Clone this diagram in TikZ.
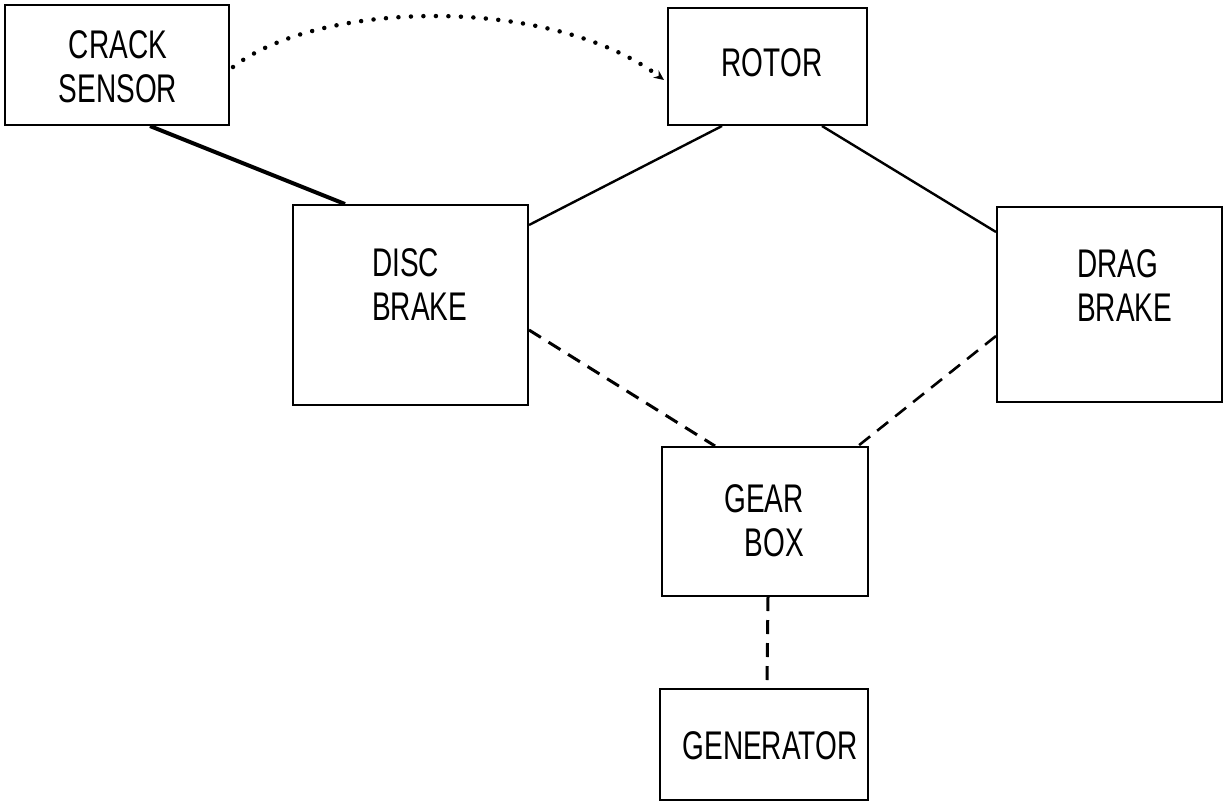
\documentclass[tikz,border=0pt]{standalone}
\usepackage{fontspec}
\setmainfont{Liberation Sans}[FakeStretch=0.7]
\usetikzlibrary{arrows.meta}
\begin{document}
\begin{tikzpicture}[x=1pt,y=-1pt,
  box/.style={draw, line width=2pt, rectangle, inner sep=0pt},
  lbl/.style={inner sep=0pt, font=\fontsize{40}{44}\selectfont},
  solidlink/.style={line width=2.4pt},
  thicklink/.style={line width=4pt},
  dashlink/.style={line width=3pt, dash pattern=on 14pt off 9pt},
  dotlink/.style={line width=4.5pt, line cap=round, dash pattern=on 0pt off 12.5pt, -{Stealth[length=10pt,width=9pt]}}]
\useasboundingbox (0,0) rectangle (1226,804);
\fill[white] (0,0) rectangle (1226,804);
% boxes
\node[box, minimum width=224pt, minimum height=120pt] (cs) at (117,65) {};
\node[box, minimum width=199pt, minimum height=117pt] (rotor) at (767.5,66.5) {};
\node[box, minimum width=235pt, minimum height=200pt] (disc) at (410.5,305) {};
\node[box, minimum width=225pt, minimum height=195pt] (drag) at (1109.5,304.5) {};
\node[box, minimum width=206pt, minimum height=149pt] (gear) at (765,521.5) {};
\node[box, minimum width=208pt, minimum height=111pt] (gen) at (764,744.5) {};
% labels
\node[lbl, align=center] (cst) at (118,67) {CRACK\\SENSOR};
\node[lbl] (rotort) at (772,63) {ROTOR};
\node[lbl, align=left, anchor=west] (disct) at (372,285) {DISC\\BRAKE};
\node[lbl, align=left, anchor=west] (dragt) at (1077,286) {DRAG\\BRAKE};
\node[lbl, align=right, anchor=east] (geart) at (804,521) {GEAR\\BOX};
\node[lbl] (gent) at (770,746) {GENERATOR};
% connectors
\draw[thicklink] ([xshift=33pt]cs.south) -- ([xshift=-65.5pt]disc.north);
\draw[solidlink] ([xshift=-45.5pt]rotor.south) -- ([yshift=80pt]disc.east);
\draw[solidlink] ([xshift=54.5pt]rotor.south) -- ([yshift=72.5pt]drag.west);
\draw[dashlink] ([yshift=-25pt]disc.east) -- ([xshift=-50pt]gear.north);
\draw[dashlink, line width=2.6pt] ([yshift=-31.5pt]drag.west) -- ([xshift=93pt]gear.north);
\draw[dashlink] ([xshift=3pt]gear.south) -- ([xshift=3pt]gen.north);
\draw[dotlink] ([xshift=3pt,yshift=-2pt]cs.east) .. controls (320,0) and (550,-5) .. ([xshift=-3pt,yshift=-13.5pt]rotor.west);
\end{tikzpicture}
\end{document}
